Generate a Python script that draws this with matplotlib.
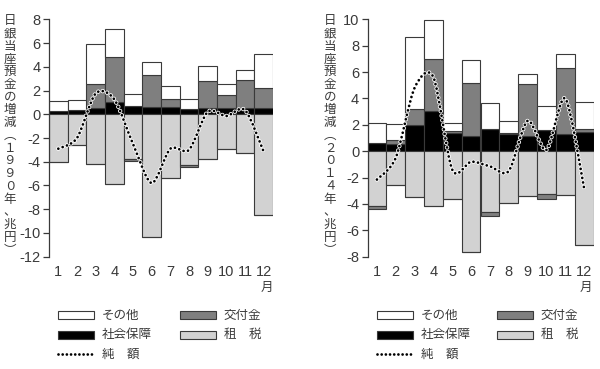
import matplotlib
matplotlib.use("Agg")
import matplotlib.pyplot as plt
from matplotlib.path import Path
from matplotlib.patches import PathPatch, Rectangle
from matplotlib.lines import Line2D
import numpy as np

plt.rcParams['axes.unicode_minus'] = False
plt.rcParams['lines.scale_dashes'] = False

JP = ['Noto Sans CJK JP', 'DejaVu Sans']
NUM = ['Liberation Sans Narrow', 'Liberation Sans', 'DejaVu Sans']
TXT = '#3a3a3a'
EDGE = '#3a3a3a'

months = list(range(1, 13))
month_labels = [str(m) for m in months]

# 1990 (left), 兆円
social_1990 = [0.3, 0.35, 0.5, 1.0, 0.7, 0.6, 0.65, 0.45, 0.55, 0.55, 0.55, 0.55]
kofu_1990 = [0.0, 0.0, 2.05, 3.8, -0.12, 2.7, 0.6, -0.2, 2.27, 1.05, 2.35, 1.65]
other_1990 = [0.82, 0.85, 3.35, 2.35, 1.0, 1.1, 1.1, 0.8, 1.25, 0.93, 0.8, 2.9]
tax_1990 = [-4.05, -2.6, -4.2, -5.9, -3.8, -10.3, -5.4, -4.25, -3.8, -2.95, -3.3, -8.5]
net_1990 = [-2.9, -2.0, 1.75, 1.25, -2.5, -5.8, -2.9, -3.0, 0.2, -0.15, 0.35, -3.15]

# 2014 (right), 兆円
social_2014 = [0.6, 0.58, 1.97, 3.05, 1.36, 1.14, 1.7, 1.28, 1.14, 1.58, 1.27, 1.44]
kofu_2014 = [-0.3, 0.25, 1.2, 3.95, 0.14, 4.04, -0.3, 0.08, 3.92, -0.35, 5.06, 0.21]
other_2014 = [1.55, 1.2, 5.5, 2.95, 0.65, 1.7, 1.95, 0.94, 0.81, 1.88, 1.03, 2.07]
tax_2014 = [-4.12, -2.6, -3.48, -4.12, -3.62, -7.65, -4.58, -3.95, -3.36, -3.25, -3.3, -7.12]
net_2014 = [-2.15, -0.5, 4.8, 5.6, -1.4, -0.8, -1.15, -1.5, 2.3, 0.1, 4.0, -2.8]

C_OTHER = 'white'
C_KOFU = '#7f7f7f'
C_SOCIAL = 'black'
C_TAX = '#d2d2d2'

W, H = 600, 369
fig = plt.figure(figsize=(6, 3.69), dpi=100)


def fx(px):
    return px / W


def fy(py):
    return 1 - py / H


def smooth_path(x, y, k=7.0):
    # cubic Bezier through the data points (Catmull-Rom tangents, softened)
    verts = [(x[0], y[0])]
    codes = [Path.MOVETO]
    n = len(x)
    for i in range(n - 1):
        xa, ya = (x[i - 1], y[i - 1]) if i > 0 else (x[i], y[i])
        xb, yb = (x[i + 2], y[i + 2]) if i + 2 < n else (x[i + 1], y[i + 1])
        c1 = (x[i] + (x[i + 1] - xa) / k, y[i] + (y[i + 1] - ya) / k)
        c2 = (x[i + 1] - (xb - x[i]) / k, y[i + 1] - (yb - y[i]) / k)
        verts += [c1, c2, (x[i + 1], y[i + 1])]
        codes += [Path.CURVE4] * 3
    return Path(verts, codes)


DOTS = (0, (0.01, 3.3))


def draw_panel(rect, social, kofu, other, tax, net, ylim, yticks):
    ax = fig.add_axes(rect)
    x = np.array(months)
    social = np.array(social)
    kofu = np.array(kofu)
    kpos = np.clip(kofu, 0, None)
    kneg = np.clip(kofu, None, 0)
    tax = np.array(tax)
    kw = dict(width=1.0, edgecolor=EDGE, linewidth=0.8)
    ax.bar(x, social, color=C_SOCIAL, **kw)
    ax.bar(x, kpos, bottom=social, color=C_KOFU, **kw)
    ax.bar(x, other, bottom=social + kpos, color=C_OTHER, **kw)
    ax.bar(x, tax, color=C_TAX, **kw)
    ax.bar(x, kneg, bottom=tax, color=C_KOFU, **kw)

    p = smooth_path(list(x), net)
    ax.add_patch(PathPatch(p, facecolor='none', edgecolor='white', lw=3.2,
                           linestyle=DOTS, capstyle='round', zorder=5))
    ax.add_patch(PathPatch(p, facecolor='none', edgecolor='black', lw=2.0,
                           linestyle=DOTS, capstyle='round', zorder=6))

    ax.set_xlim(0.5, 12.5)
    ax.set_ylim(*ylim)
    ax.set_yticks(yticks)
    ax.set_xticks(months)
    ax.set_xticklabels(month_labels)
    for s in ['top', 'right', 'bottom']:
        ax.spines[s].set_visible(False)
    ax.spines['left'].set_color(TXT)
    ax.spines['left'].set_linewidth(0.9)
    ax.tick_params(axis='y', direction='out', length=4, width=0.9,
                   color=TXT, labelcolor=TXT, pad=2)
    ax.tick_params(axis='x', length=0, labelcolor=TXT, pad=6)
    for lab in ax.get_xticklabels() + ax.get_yticklabels():
        lab.set_family(NUM)
        lab.set_fontsize(10.5)
    return ax


top_px, bot_px = 19.3, 256.7
draw_panel([fx(49), fy(bot_px), fx(273) - fx(49), (bot_px - top_px) / H],
           social_1990, kofu_1990, other_1990, tax_1990, net_1990,
           (-12, 8), list(range(-12, 9, 2)))
draw_panel([fx(367.5), fy(bot_px), fx(593.5) - fx(367.5), (bot_px - top_px) / H],
           social_2014, kofu_2014, other_2014, tax_2014, net_2014,
           (-8, 10), list(range(-8, 11, 2)))

# vertical y labels (one character per line)
ylab_1990 = ['日', '銀', '当', '座', '預', '金', 'の', '増', '減', '︵',
             '１', '９', '９', '０', '年', '、', '兆', '円', '︶']
ylab_2014 = ['日', '銀', '当', '座', '預', '金', 'の', '増', '減', '︵',
             '２', '０', '１', '４', '年', '、', '兆', '円', '︶']
for xc, chars in [(10, ylab_1990), (330, ylab_2014)]:
    for i, ch in enumerate(chars):
        fig.text(fx(xc), fy(20.8 + i * 12.74), ch, family=JP, fontsize=9,
                 color=TXT, ha='center', va='center')

# 月 under 12
for xc in (266.5, 586):
    fig.text(fx(xc), fy(287), '月', family=JP, fontsize=9, color=TXT,
             ha='center', va='center')


# legends drawn in figure pixel positions
def legend(x1, x2):
    rows = [315, 334.5, 354]
    pw, ph = 36, 8
    items = [
        (x1, rows[0], 'patch', C_OTHER, 'その他'),
        (x2, rows[0], 'patch', C_KOFU, '交付金'),
        (x1, rows[1], 'patch', C_SOCIAL, '社会保障'),
        (x2, rows[1], 'patch', C_TAX, '租\u3000税'),
        (x1, rows[2], 'line', 'black', '純\u3000額'),
    ]
    for px, py, kind, col, label in items:
        if kind == 'patch':
            fig.add_artist(Rectangle((fx(px), fy(py + ph / 2)), pw / W, ph / H,
                                     transform=fig.transFigure, facecolor=col,
                                     edgecolor=EDGE, linewidth=0.8))
        else:
            fig.add_artist(Line2D([fx(px), fx(px + pw)], [fy(py), fy(py)],
                                  transform=fig.transFigure, color=col, lw=2.0,
                                  linestyle=(0, (0.01, 3.0)),
                                  dash_capstyle='round'))
        fig.text(fx(px + pw + 8), fy(py), label, family=JP, fontsize=9,
                 color=TXT, ha='left', va='center')


legend(58, 180)
legend(377, 497)

fig.savefig('out.png', dpi=100)
